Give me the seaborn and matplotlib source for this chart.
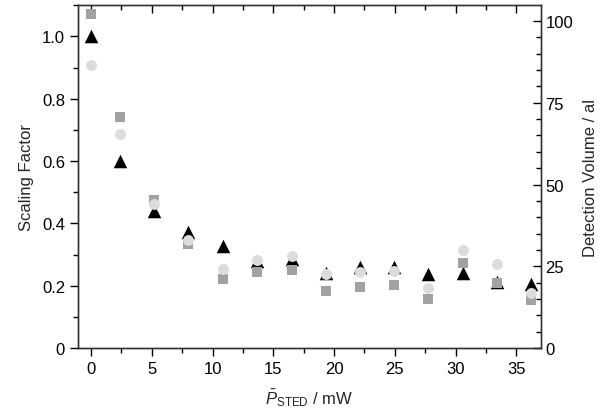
import numpy as np
import pandas as pd
import matplotlib
matplotlib.use("Agg")
import matplotlib.pyplot as plt
from matplotlib.ticker import MultipleLocator
import seaborn as sns

# data
p_sted = [0, 2.4, 5.2, 8.0, 10.85, 13.65, 16.5, 19.3, 22.1, 24.9, 27.75, 30.6, 33.4, 36.2]
scaling = [1.0, 0.60, 0.439, 0.371, 0.326, 0.28, 0.285, 0.24, 0.261, 0.259, 0.238, 0.242, 0.213, 0.205]
vol_a = [102.2, 70.6, 45.4, 31.8, 21.2, 23.1, 23.8, 17.5, 18.6, 19.2, 14.9, 26.1, 19.8, 14.6]   # squares
vol_b = [86.4, 65.4, 43.9, 33.1, 24.2, 26.8, 28.2, 22.5, 23.1, 23.5, 18.5, 30.0, 25.8, 16.9]    # circles

sns.set_style("ticks")
plt.rcParams["font.family"] = ["Liberation Sans", "DejaVu Sans"]
plt.rcParams["mathtext.fontset"] = "custom"
plt.rcParams["mathtext.rm"] = "Liberation Sans"
plt.rcParams["mathtext.it"] = "Liberation Sans:italic"
plt.rcParams["font.size"] = 12

df = pd.DataFrame({"P": p_sted, "scaling": scaling, "vol_a": vol_a, "vol_b": vol_b})

fig = plt.figure(figsize=(6.02, 4.14), dpi=100)
ax = fig.add_axes([0.130, 0.157, 0.768, 0.8285])
ax2 = ax.twinx()

sns.scatterplot(data=df, x="P", y="scaling", ax=ax, marker="^", color="black",
                s=95, linewidth=0, zorder=3)
sns.scatterplot(data=df, x="P", y="vol_a", ax=ax2, marker="s", color="#a2a2a2",
                s=52, linewidth=0, zorder=3)
sns.scatterplot(data=df, x="P", y="vol_b", ax=ax2, marker="o", color="#dcdcdc",
                s=62, linewidth=0, zorder=4)

ax.set_xlim(-1.05, 37.0)
ax.set_ylim(0, 1.101)
ax2.set_ylim(0, 104.9)

ax.xaxis.set_major_locator(MultipleLocator(5))
ax.xaxis.set_minor_locator(MultipleLocator(2.5))
ax.yaxis.set_major_locator(MultipleLocator(0.2))
ax.yaxis.set_minor_locator(MultipleLocator(0.1))
ax2.yaxis.set_major_locator(MultipleLocator(25))
ax2.yaxis.set_minor_locator(MultipleLocator(5))

ax.set_yticks([0, 0.2, 0.4, 0.6, 0.8, 1.0])
ax.set_yticklabels(["0", "0.2", "0.4", "0.6", "0.8", "1.0"])

ax.tick_params(axis="both", which="major", direction="out", length=6, width=1, colors="black",
               labelsize=12)
ax.tick_params(axis="both", which="minor", direction="out", length=3.5, width=1, colors="black")
ax.tick_params(axis="x", which="both", top=True)
# top ticks point inward
for t in ax.xaxis.get_major_ticks() + ax.xaxis.get_minor_ticks():
    t.tick2line.set_marker(matplotlib.lines.TICKDOWN)
ax2.tick_params(axis="y", which="major", direction="in", length=6, width=1, colors="black",
                labelsize=12)
ax2.tick_params(axis="y", which="minor", direction="in", length=3.5, width=1, colors="black")

for a in (ax, ax2):
    for sp in a.spines.values():
        sp.set_visible(True)
        sp.set_color("#333333")
        sp.set_linewidth(1)

ax.set_xlabel(r"$\bar{P}_\mathrm{STED}$ / mW", fontsize=12, labelpad=7)
ax.set_ylabel("Scaling Factor", fontsize=12, labelpad=6)
ax2.set_ylabel("Detection Volume / al", fontsize=12, labelpad=7)

fig.savefig("out.png", dpi=100)
